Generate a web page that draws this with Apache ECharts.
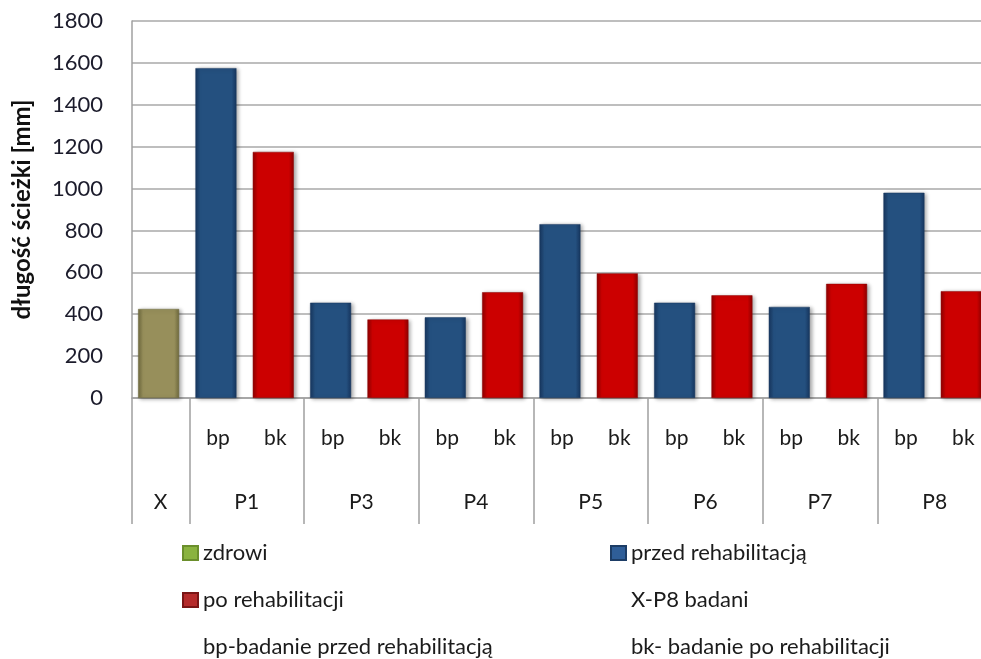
<!DOCTYPE html>
<html>
<head>
<meta charset="utf-8">
<script src="https://cdn.jsdelivr.net/npm/echarts@6/dist/echarts.min.js"></script>
<style>
  html, body { margin: 0; padding: 0; background: #fff; }
  #chart { width: 981px; height: 659px; }
</style>
</head>
<body>
<div id="chart"></div>
<script>
// 类目（每根柱子一个槽位）
const slotLabels = ['', 'bp', 'bk', 'bp', 'bk', 'bp', 'bk', 'bp', 'bk', 'bp', 'bk', 'bp', 'bk', 'bp', 'bk']
// 分组名称及其中心位置（以槽位计）
const groupNames = ['X', 'P1', 'P3', 'P4', 'P5', 'P6', 'P7', 'P8']
const groupCenters = [0.5, 2, 4, 6, 8, 10, 12, 14]
// 分组分隔线位置
const groupBounds = [0, 1, 3, 5, 7, 9, 11, 13, 15]
// 数据
const healthy = [425, '-', '-', '-', '-', '-', '-', '-', '-', '-', '-', '-', '-', '-', '-']
const before = ['-', 1575, '-', 455, '-', 385, '-', 830, '-', 455, '-', 435, '-', 980, '-']
const after = ['-', '-', 1175, '-', 375, '-', 505, '-', 595, '-', 490, '-', 545, '-', 510]
// Y 轴刻度
const yTicks = [0, 200, 400, 600, 800, 1000, 1200, 1400, 1600, 1800]

const font = 'Lato, "Open Sans", sans-serif'

// 柱子的立体效果（左右边缘变暗）
function bevel(edge, main) {
  return new echarts.graphic.LinearGradient(0, 0, 1, 0, [
    { offset: 0, color: edge },
    { offset: 0.12, color: main },
    { offset: 0.88, color: main },
    { offset: 1, color: edge }
  ])
}

function barStyle(edge, main) {
  return {
    color: bevel(edge, main),
    borderColor: edge,
    borderWidth: 0.5,
    shadowBlur: 4,
    shadowColor: 'rgba(0,0,0,0.35)',
    shadowOffsetX: 2,
    shadowOffsetY: 1
  }
}

// 图例公共配置
const legendBase = {
  orient: 'vertical',
  top: 542,
  height: 120,
  padding: 0,
  itemWidth: 15,
  itemHeight: 14,
  itemGap: 25,
  icon: 'rect',
  textStyle: { fontFamily: font, fontSize: 22, color: '#1b1b1b', lineHeight: 22 }
}

const chart = echarts.init(document.getElementById('chart'))

chart.setOption({
  animation: false,
  textStyle: { fontFamily: font },
  grid: {
    left: 132,
    width: 860,
    top: 21,
    bottom: 261,
    outerBoundsMode: 'none'
  },
  legend: [Object.assign({}, legendBase, {
    left: 182,
    data: [
      { name: 'zdrowi', itemStyle: { color: '#8ab33f', borderColor: '#6b8f2c' } },
      { name: 'po rehabilitacji', itemStyle: { color: '#b52a2a', borderColor: '#7a1515' } },
      { name: 'bp-badanie przed rehabilitacją', icon: 'none' }
    ]
  }), Object.assign({}, legendBase, {
    left: 610,
    data: [
      { name: 'przed rehabilitacją', itemStyle: { color: '#2f5e98', borderColor: '#1d3d66' } },
      { name: 'X-P8 badani', icon: 'none' },
      { name: 'bk- badanie po rehabilitacji', icon: 'none' }
    ]
  })],
  xAxis: [{
    type: 'category',
    data: slotLabels,
    axisLine: { lineStyle: { color: '#a0a0a0', width: 1.5 } },
    axisTick: { show: false },
    axisLabel: {
      interval: 0,
      margin: 30,
      fontSize: 21,
      color: '#1b1b1b'
    }
  }, {
    // 第二层：分组名称与分隔线
    type: 'value',
    position: 'bottom',
    min: 0,
    max: 15,
    axisLine: { show: false },
    splitLine: { show: false },
    axisTick: {
      show: true,
      length: 126,
      customValues: groupBounds,
      lineStyle: { color: '#a0a0a0', width: 1.5 }
    },
    axisLabel: {
      customValues: groupCenters,
      margin: 94,
      fontSize: 21,
      color: '#1b1b1b',
      formatter: function (v) {
        return groupNames[groupCenters.indexOf(v)]
      }
    }
  }],
  yAxis: {
    type: 'value',
    min: yTicks[0],
    max: yTicks[yTicks.length - 1],
    interval: 200,
    name: 'długość ścieżki [mm]',
    nameLocation: 'middle',
    nameGap: 98,
    nameTextStyle: { fontFamily: font, fontSize: 24, fontWeight: 'bold', color: '#111' },
    axisLine: { show: true, lineStyle: { color: '#a0a0a0', width: 1.5 } },
    axisTick: { show: false },
    axisLabel: {
      margin: 29,
      fontSize: 22,
      color: '#1b1b2b',
      formatter: function (v) { return String(v) }
    },
    splitLine: { lineStyle: { color: '#a8a8a8', width: 1.5 } }
  },
  series: [{
    name: 'zdrowi',
    type: 'bar',
    stack: 'all',
    barWidth: 41,
    data: healthy,
    itemStyle: barStyle('#6f6a3e', '#978f5b')
  }, {
    name: 'przed rehabilitacją',
    type: 'bar',
    stack: 'all',
    barWidth: 41,
    data: before,
    itemStyle: barStyle('#17365f', '#24507f')
  }, {
    name: 'po rehabilitacji',
    type: 'bar',
    stack: 'all',
    barWidth: 41,
    data: after,
    itemStyle: barStyle('#8e0000', '#cc0000')
  }, {
    // 仅用于图例中的说明文字
    name: 'X-P8 badani',
    type: 'bar',
    data: []
  }, {
    name: 'bp-badanie przed rehabilitacją',
    type: 'bar',
    data: []
  }, {
    name: 'bk- badanie po rehabilitacji',
    type: 'bar',
    data: []
  }]
})
</script>
</body>
</html>
